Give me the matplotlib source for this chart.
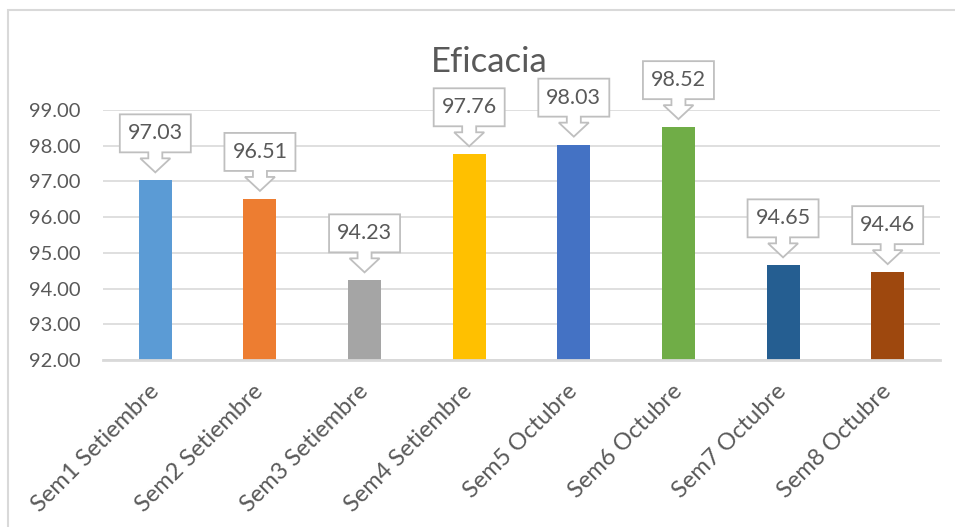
import numpy as np
import matplotlib
matplotlib.use('Agg')
import matplotlib.pyplot as plt
from matplotlib.patches import Polygon, Rectangle
from matplotlib.transforms import ScaledTranslation

# data
categories = ['Sem1 Setiembre', 'Sem2 Setiembre', 'Sem3 Setiembre', 'Sem4 Setiembre',
              'Sem5 Octubre', 'Sem6 Octubre', 'Sem7 Octubre', 'Sem8 Octubre']
values = [97.03, 96.51, 94.23, 97.76, 98.03, 98.52, 94.65, 94.46]
colors = ['#5B9BD5', '#ED7D31', '#A5A5A5', '#FFC000', '#4472C4', '#70AD47', '#255E91', '#9E480E']
yticks = [92, 93, 94, 95, 96, 97, 98, 99]

plt.rcParams['font.family'] = ['Lato', 'DejaVu Sans']
txt = '#595959'
grid = '#D9D9D9'

fig = plt.figure(figsize=(9.55, 5.27), dpi=100)
ax = fig.add_axes([103/955, 1 - 360/527, 837/955, 250/527])

x = np.arange(len(categories))
ax.bar(x, np.array(values) - 92, bottom=92, width=0.315, color=colors, zorder=2)

ax.set_xlim(-0.5, len(categories) - 0.5)
ax.set_ylim(92, 99)
ax.set_yticks(yticks)
ax.set_yticklabels(['%.2f' % v for v in yticks])
ax.set_xticks(x)
ax.set_xticklabels(categories, rotation=45, ha='right', va='center', rotation_mode='anchor')
ax.tick_params(axis='y', length=0, pad=16, labelsize=14.5, labelcolor=txt)
ax.tick_params(axis='x', length=0, pad=20, labelsize=17, labelcolor=txt)
ax.grid(axis='y', color=grid, linewidth=1.2, zorder=0)
for s in ['top', 'right', 'left']:
    ax.spines[s].set_visible(False)
ax.spines['bottom'].set_color(grid)
ax.spines['bottom'].set_linewidth(2)
ax.spines['bottom'].set_zorder(3)

# callout boxes (down-arrow shape), sizes in pixels at 100 dpi
gap = 8
hw, sw, ah, bb, bt = 35.5, 7, 14, 20, 58
shape = [(0, 0), (15, ah), (sw, ah), (sw, bb), (hw, bb), (hw, bt),
         (-hw, bt), (-hw, bb), (-sw, bb), (-sw, ah), (-15, ah)]
for xi, v in zip(x, values):
    tr = fig.dpi_scale_trans + ScaledTranslation(xi, v, ax.transData)
    pts = [(px / 100, (py + gap) / 100) for px, py in shape]
    ax.add_patch(Polygon(pts, closed=True, transform=tr, facecolor='white',
                         edgecolor='#BFBFBF', linewidth=1.3, zorder=4, clip_on=False))
    ax.text(0, (gap + (bb + bt) / 2) / 100, '%.2f' % v, transform=tr, ha='center',
            va='center', fontsize=15.5, color=txt, zorder=5)

fig.text(489/955, 1 - 62/527, 'Eficacia', ha='center', va='center', fontsize=25, color=txt)

# chart area border
fig.patches.append(Rectangle((8/955, -0.1), 1.2, 1 - 10/527 + 0.1, transform=fig.transFigure,
                             fill=False, edgecolor='#D9D9D9', linewidth=1.5))

fig.savefig('out.png', dpi=100)
